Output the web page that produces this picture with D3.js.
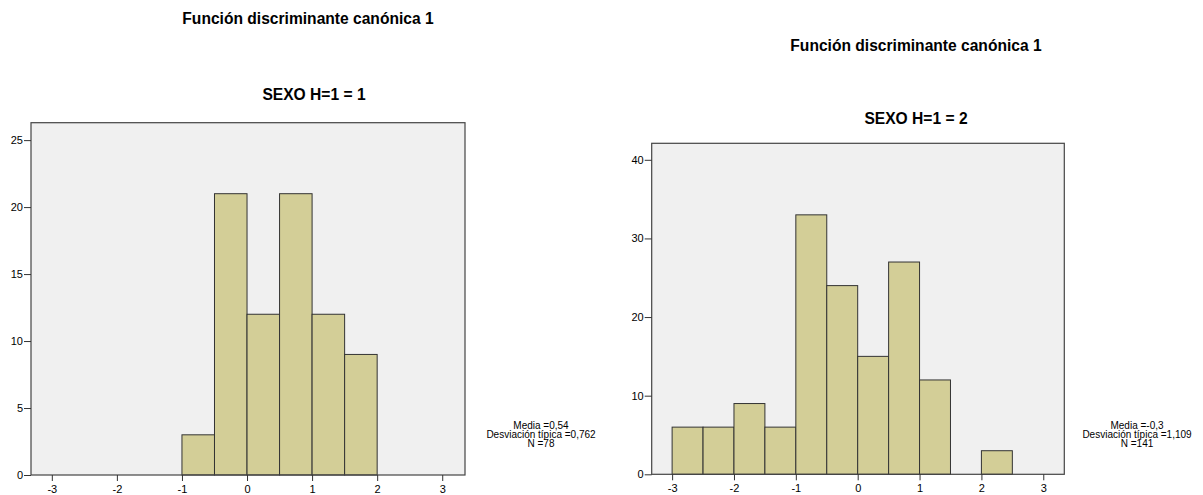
<!DOCTYPE html>
<html>
<head>
<meta charset="utf-8">
<script src="https://cdn.jsdelivr.net/npm/d3@7"></script>
<style>
  html, body { margin: 0; padding: 0; background: #fff; }
  svg { display: block; }
  text { font-family: "Liberation Sans", Arial, sans-serif; fill: #000; }
</style>
</head>
<body>
<svg id="chart" width="1203" height="495"></svg>
<script>
// ---- Data ----
const mainTitle = "Función discriminante canónica 1";
const xTicks = [-3, -2, -1, 0, 1, 2, 3];
const binWidth = 0.5;

// Panel 1: SEXO H=1 = 1
const groupLabel1 = "SEXO H=1 = 1";
const binStarts1 = [-1, -0.5, 0, 0.5, 1, 1.5];
const counts1 = [3, 21, 12, 21, 12, 9];
const yTicks1 = [0, 5, 10, 15, 20, 25];
const stats1 = ["Media =0,54", "Desviación típica =0,762", "N =78"];

// Panel 2: SEXO H=1 = 2
const groupLabel2 = "SEXO H=1 = 2";
const binStarts2 = [-3, -2.5, -2, -1.5, -1, -0.5, 0, 0.5, 1, 1.5, 2];
const counts2 = [6, 6, 9, 6, 33, 24, 15, 27, 12, 0, 3];
const yTicks2 = [0, 10, 20, 30, 40];
const stats2 = ["Media =-0,3", "Desviación típica =1,109", "N =141"];

// ---- Layout ----
const panels = [
  {
    label: groupLabel1, starts: binStarts1, counts: counts1, yTicks: yTicks1, stats: stats1,
    xDomain: [-3.32, 3.35], xRange: [31, 465],
    yDomain: [0, 26.3], yRange: [475, 122.7],
    titleX: 308, titleY: 24, labelX: 314, labelY: 100,
    statsX: 541, statsY: 428.5
  },
  {
    label: groupLabel2, starts: binStarts2, counts: counts2, yTicks: yTicks2, stats: stats2,
    xDomain: [-3.33, 3.34], xRange: [651.7, 1064.3],
    yDomain: [0, 42.1], yRange: [474.3, 143.3],
    titleX: 916, titleY: 51, labelX: 916, labelY: 124,
    statsX: 1137, statsY: 428.5
  }
];

const svg = d3.select("#chart");
const fmt = d => String(d);

panels.forEach(p => {
  const x = d3.scaleLinear().domain(p.xDomain).range(p.xRange);
  const y = d3.scaleLinear().domain(p.yDomain).range(p.yRange);
  const g = svg.append("g");

  // titles
  g.append("text").attr("x", p.titleX).attr("y", p.titleY)
    .attr("text-anchor", "middle").attr("font-size", 15.6).attr("font-weight", "bold")
    .text(mainTitle);
  g.append("text").attr("x", p.labelX).attr("y", p.labelY)
    .attr("text-anchor", "middle").attr("font-size", 15.6).attr("font-weight", "bold")
    .text(p.label);

  // plot background
  g.append("rect")
    .attr("x", p.xRange[0]).attr("y", p.yRange[1])
    .attr("width", p.xRange[1] - p.xRange[0])
    .attr("height", p.yRange[0] - p.yRange[1])
    .attr("fill", "#f0f0f0");

  // bars
  const bins = p.starts.map((s, i) => ({ x0: s, x1: s + binWidth, n: p.counts[i] }))
    .filter(d => d.n > 0);
  g.selectAll("rect.bar").data(bins).enter().append("rect")
    .attr("class", "bar")
    .attr("x", d => x(d.x0))
    .attr("width", d => x(d.x1) - x(d.x0))
    .attr("y", d => y(d.n))
    .attr("height", d => y(0) - y(d.n))
    .attr("fill", "#d3ce97")
    .attr("stroke", "#333")
    .attr("stroke-width", 1);

  // frame
  g.append("rect")
    .attr("x", p.xRange[0]).attr("y", p.yRange[1])
    .attr("width", p.xRange[1] - p.xRange[0])
    .attr("height", p.yRange[0] - p.yRange[1])
    .attr("fill", "none").attr("stroke", "#444").attr("stroke-width", 1.2);

  // axes
  const yAxis = d3.axisLeft(y).tickValues(p.yTicks).tickFormat(fmt).tickSize(7).tickPadding(1).tickSizeOuter(0);
  const ya = g.append("g").attr("transform", `translate(${p.xRange[0]},0)`).call(yAxis);
  ya.select(".domain").remove();
  ya.selectAll("line").attr("stroke", "#333");
  ya.selectAll("text").attr("font-size", 11).attr("font-family", "Liberation Sans, Arial, sans-serif");

  const xAxis = d3.axisBottom(x).tickValues(xTicks).tickFormat(fmt).tickSize(6).tickPadding(4).tickSizeOuter(0);
  const xa = g.append("g").attr("transform", `translate(0,${p.yRange[0]})`).call(xAxis);
  xa.select(".domain").remove();
  xa.selectAll("line").attr("stroke", "#333");
  xa.selectAll("text").attr("font-size", 11).attr("font-family", "Liberation Sans, Arial, sans-serif");

  // stats
  const st = g.append("text").attr("text-anchor", "middle").attr("font-size", 10);
  p.stats.forEach((s, i) => {
    st.append("tspan").attr("x", p.statsX).attr("y", p.statsY + i * 9.3).text(s);
  });
});
</script>
</body>
</html>
